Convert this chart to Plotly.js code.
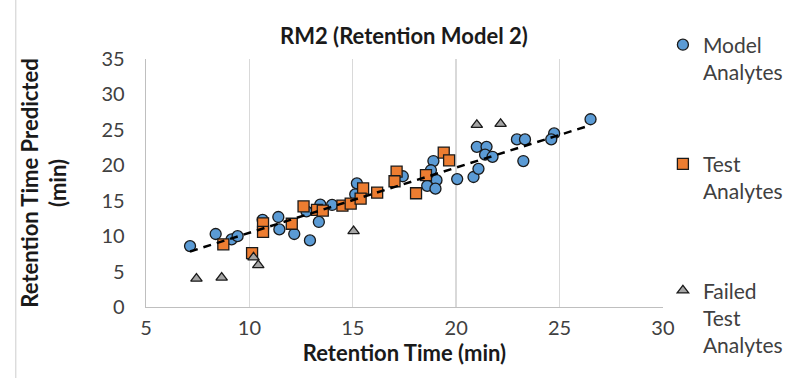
<!DOCTYPE html>
<html>
<head>
<meta charset="utf-8">
<script src="https://cdn.plot.ly/plotly-3.0.1.min.js"></script>
<style>html,body{margin:0;padding:0;background:#fff;}#chart{width:792px;height:378px;}</style>
</head>
<body>
<div id="chart"></div>
<script>
// Model Analytes (blue circles)
const modelX = [7.13, 8.37, 9.14, 9.43, 10.64, 11.40, 11.45, 12.17, 12.93, 12.76, 13.43, 13.36, 14.00, 15.20, 15.12, 17.42, 18.90, 18.78, 19.05, 18.60, 19.00, 20.05, 20.84, 21.08, 21.00, 21.47, 21.40, 21.76, 22.94, 23.33, 23.25, 24.74, 24.60, 26.50];
const modelY = [8.6, 10.3, 9.55, 10.0, 12.3, 12.7, 10.95, 10.3, 9.4, 13.5, 14.45, 12.0, 14.4, 17.45, 15.9, 18.45, 20.6, 19.3, 17.9, 17.1, 16.7, 18.05, 18.35, 19.5, 22.6, 22.6, 21.5, 21.2, 23.65, 23.65, 20.6, 24.5, 23.65, 26.5];
// Test Analytes (orange squares)
const testX = [8.74, 10.13, 10.66, 10.66, 12.05, 12.62, 13.27, 13.55, 14.50, 14.90, 15.50, 15.38, 16.18, 17.12, 17.02, 18.06, 18.54, 19.40, 19.66];
const testY = [8.85, 7.6, 11.8, 10.6, 11.75, 14.2, 13.7, 13.6, 14.3, 14.6, 16.75, 15.3, 16.15, 19.1, 17.75, 16.05, 18.6, 21.8, 20.7];
// Failed Test Analytes (grey triangles)
const failX = [7.44, 8.66, 10.20, 10.43, 15.04, 21.00, 22.15];
const failY = [4.0, 4.15, 7.0, 5.9, 10.7, 25.7, 25.85];

const seriesNames = ["Model<br>Analytes", "Test<br>Analytes", "Failed<br>Test<br>Analytes"];
const chartTitle = "RM2 (Retention Model 2)";
const xTitle = "Retention Time (min)";
const yTitle = "Retention Time Predicted<br>(min)";

// linear trendline (least squares) of the model analytes
function linfit(xs, ys) {
  const n = xs.length;
  let sx = 0, sy = 0, sxx = 0, sxy = 0;
  for (let i = 0; i < n; i++) { sx += xs[i]; sy += ys[i]; sxx += xs[i]*xs[i]; sxy += xs[i]*ys[i]; }
  const m = (n*sxy - sx*sy) / (n*sxx - sx*sx);
  const b = (sy - m*sx) / n;
  return [m, b];
}
const [slope, icpt] = linfit(modelX, modelY);
const tx = [Math.min(...modelX), Math.max(...modelX)];
const ty = tx.map(v => slope*v + icpt);

const font = "Lato, 'Open Sans', sans-serif";
const edge = {color: "#1a1a1a", width: 1.3};
const traces = [
  {x: modelX, y: modelY, type: "scatter", mode: "markers", name: seriesNames[0], legend: "legend",
   marker: {symbol: "circle", size: 11, color: "#5B9BD5", line: edge}},
  {x: testX, y: testY, type: "scatter", mode: "markers", name: seriesNames[1], legend: "legend2",
   marker: {symbol: "square", size: 11, color: "#ED7D31", line: edge}},
  {x: failX, y: failY, type: "scatter", mode: "markers", name: seriesNames[2], legend: "legend3",
   marker: {symbol: "triangle-up", size: 10, color: "#A5A5A5", line: edge}},
  {x: tx, y: ty, type: "scatter", mode: "lines", showlegend: false, hoverinfo: "skip",
   line: {color: "#000000", width: 2.5, dash: "8px,6px"}}
];

function leg(ytop) {
  return {xref: "container", yref: "container", x: 0.837, y: ytop, xanchor: "left", yanchor: "top",
          font: {size: 21, color: "#404040"}, valign: "top", itemwidth: 30, bgcolor: "rgba(0,0,0,0)"};
}

const layout = {
  width: 792, height: 378,
  margin: {l: 146, r: 124, t: 59, b: 71},
  paper_bgcolor: "#ffffff", plot_bgcolor: "#ffffff",
  font: {family: font, color: "#404040", size: 20},
  title: {text: "<b>" + chartTitle + "</b>", x: 0.51, xanchor: "center", y: 0.905, yanchor: "middle",
          font: {family: font, size: 22, color: "#1a1a1a"}},
  xaxis: {range: [5, 30], dtick: 5, tick0: 5, showgrid: true, gridcolor: "#d9d9d9", gridwidth: 1.3,
          showline: true, linecolor: "#bfbfbf", linewidth: 1.3, zeroline: false, ticks: "",
          ticklabelstandoff: 3,
          tickfont: {size: 20, color: "#404040"},
          title: {text: "<b>" + xTitle + "</b>", standoff: 6, font: {size: 22, color: "#1a1a1a"}}},
  yaxis: {range: [0, 35], dtick: 5, tick0: 0, showgrid: false,
          showline: true, linecolor: "#bfbfbf", linewidth: 1.3, zeroline: false, ticks: "",
          ticklabelstandoff: 16,
          tickfont: {size: 20, color: "#404040"},
          title: {text: "<b>" + yTitle + "</b>", standoff: 28, font: {size: 22, color: "#1a1a1a"}}},
  legend: leg(0.935),
  legend2: leg(0.62),
  legend3: leg(0.285),
  shapes: [
    {type: "line", xref: "paper", yref: "paper", x0: -0.252, x1: -0.252, y0: -0.3, y1: 1.3,
     line: {color: "#d9d9d9", width: 1.3}}
  ],
  showlegend: true
};

Plotly.newPlot("chart", traces, layout, {displayModeBar: false, staticPlot: true});
</script>
</body>
</html>
